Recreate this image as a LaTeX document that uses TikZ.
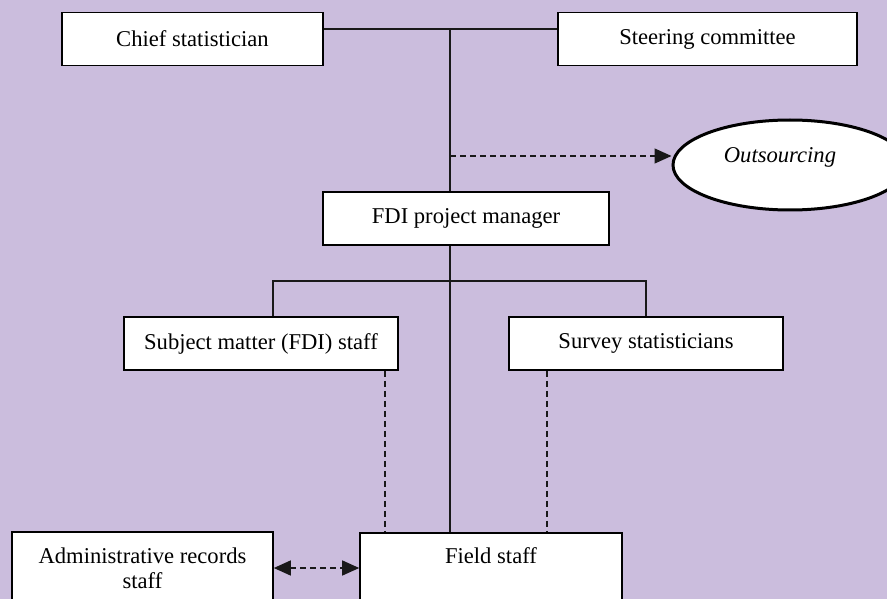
\documentclass[tikz,border=0pt]{standalone}
\usepackage{fontspec}
\setmainfont{Liberation Serif}
\usetikzlibrary{arrows.meta,shapes.geometric}
\definecolor{panel}{RGB}{203,189,221}
\begin{document}
\begin{tikzpicture}[x=1pt,y=-1pt,
  every node/.style={font=\fontsize{22.6}{25}\selectfont},
  box/.style={draw=black, fill=white, line width=1.6pt, inner sep=0pt},
  link/.style={draw=black!90, line width=1.5pt},
  dlink/.style={draw=black!90, line width=1.4pt, dash pattern=on 6pt off 4pt},
  tri/.tip={Triangle[length=17pt,width=15pt]},
]
% page frame and background
\path[use as bounding box] (0,0) rectangle (887,599);
\clip (0,0) rectangle (887,599);
\fill[panel] (0,0) rectangle (887,599);

% boxes
\node[box, minimum width=261pt, minimum height=53pt] (chief) at (192.5,39) {Chief statistician};
\node[box, minimum width=299pt, minimum height=53pt] (steer) at (707.5,39) {Steering committee};
\node[box, minimum width=286pt, minimum height=53pt] (fdi) at (466,218.5) {FDI project manager};
\node[box, minimum width=274pt, minimum height=53pt] (subj) at (261,343.5) {Subject matter (FDI) staff};
\node[box, minimum width=274pt, minimum height=53pt] (surv) at (646,343.5) {Survey statisticians};
\node[box, minimum width=261pt, minimum height=72pt, align=center] (admin) at (142.5,568) {Administrative records\\staff};
\node[box, minimum width=262pt, minimum height=110pt, anchor=north] (field) at (491,532) {};
\node (fieldtxt) at (491,556) {Field staff};

% outsourcing ellipse
\node[draw=black, fill=white, line width=3pt, ellipse, minimum width=234pt, minimum height=90pt, inner sep=0pt] (out) at (790,165) {};
\node[font=\fontsize{22.6}{25}\selectfont\itshape] (outtxt) at (780,157) {Outsourcing};

% junction points
\coordinate (top) at (450,29);
\coordinate (tap) at (450,156);
\coordinate (bl) at (273,281);
\coordinate (br) at (646,281);
\coordinate (dl) at (385,0);
\coordinate (dr) at (547,0);

% solid reporting lines
\draw[link] (chief.east |- top) -- (steer.west |- top);
\draw[link] (top) -- (top |- fdi.north);
\draw[link] (top |- fdi.south) -- (top |- field.north);
\draw[link] (bl |- subj.north) -- (bl) -- (br) -- (surv.north);

% dashed links
\draw[dlink] (subj.south -| dl) -- (field.north -| dl);
\draw[dlink] (surv.south -| dr) -- (field.north -| dr);
\draw[dlink, -tri] (tap) -- (tap -| out.west);
\draw[dlink, tri-tri] (admin.east) -- (field.west |- admin.east);
\end{tikzpicture}
\end{document}
